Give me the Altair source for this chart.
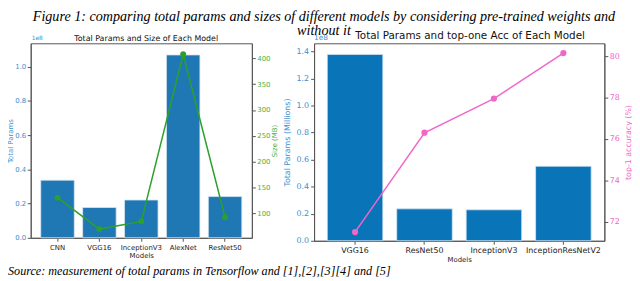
import altair as alt
import pandas as pd

# ---- data ----
left_models = ["CNN", "VGG16", "InceptionV3", "AlexNet", "ResNet50"]
left_params = [33.7e6, 17.7e6, 22.1e6, 106.9e6, 24.1e6]
left_size_mb = [130, 69, 84, 408, 92]

right_models = ["VGG16", "ResNet50", "InceptionV3", "InceptionResNetV2"]
right_params = [137.8e6, 23.6e6, 22.9e6, 55.1e6]
right_acc = [71.5, 76.3, 77.95, 80.15]

title_lines = [
    "Figure 1: comparing total params and sizes of different models by considering pre-trained weights and",
    "without it",
]
caption = "Source: measurement of total params in Tensorflow and [1],[2],[3][4]  and [5]"
left_title = "Total Params and Size of Each Model"
right_title = "Total Params and top-one Acc of Each Model"

BLUE_TXT = "#3a8fcf"
GREEN = "#2ca02c"
GREEN_TXT = "#45b045"
PINK = "#f067c8"
SANS = "DejaVu Sans"

df_l = pd.DataFrame({"model": left_models, "params": left_params,
                     "size": left_size_mb, "idx": range(len(left_models))})
df_r = pd.DataFrame({"model": right_models, "params": right_params,
                     "acc": right_acc, "idx": range(len(right_models))})

# ---------------- left panel ----------------
xl = alt.X("model:N", sort=left_models,
           scale=alt.Scale(paddingInner=0.2, paddingOuter=0.24),
           axis=alt.Axis(title="Models", labelAngle=0, labelFontSize=7, titleFontSize=7,
                         labelColor="#222", titleColor="#222", titlePadding=1,
                         titleFontWeight="normal"))
bars_l = alt.Chart(df_l).mark_bar(color="#1f77b4", stroke="#d6e6f2", strokeWidth=0.8).encode(
    x=xl,
    y=alt.Y("params:Q", scale=alt.Scale(domain=[0, 1.137e8], nice=False, zero=True),
            axis=alt.Axis(title="Total Params", values=[0, 2e7, 4e7, 6e7, 8e7, 1e8],
                          labelExpr="format(datum.value/1e8, '.1f')",
                          labelColor=BLUE_TXT, titleColor=BLUE_TXT, labelFontSize=7,
                          titleFontSize=7, titlePadding=1, labelPadding=1.5,
                          titleFontWeight="normal")),
)
line_l = alt.Chart(df_l).mark_line(
    color=GREEN, strokeWidth=1.5,
    point=alt.OverlayMarkDef(color=GREEN, size=36, filled=True, opacity=1),
).encode(
    x=alt.X("model:N", sort=left_models),
    y=alt.Y("size:Q", scale=alt.Scale(domain=[52.1, 429.3], nice=False, zero=False),
            axis=alt.Axis(orient="right", title="Size (MB)",
                          values=[100, 150, 200, 250, 300, 350, 400],
                          labelColor=GREEN_TXT, titleColor=GREEN_TXT, labelFontSize=7,
                          titleFontSize=7, titleAngle=270, titleBaseline="top",
                          titlePadding=1, labelPadding=1.5,
                          titleFontWeight="normal")),
    order=alt.Order("idx:Q"),
)
off_l = alt.Chart(pd.DataFrame({"t": ["1e8"]})).mark_text(
    align="left", baseline="bottom", fontSize=6, color=BLUE_TXT, font=SANS
).encode(x=alt.value(1), y=alt.value(-2), text="t:N")

left = alt.layer(bars_l, line_l, off_l).resolve_scale(y="independent").properties(
    width=224, height=197,
    title=alt.TitleParams(left_title, fontSize=8, font=SANS, fontWeight="normal",
                          color="#111", offset=-8, dx=5),
)

# ---------------- right panel ----------------
xr = alt.X("model:N", sort=right_models,
           scale=alt.Scale(paddingInner=0.2, paddingOuter=0.19),
           axis=alt.Axis(title="Models", labelAngle=0, labelFontSize=8, titleFontSize=7,
                         labelColor="#222", titleColor="#222", titlePadding=2,
                         titleFontWeight="normal"))
bars_r = alt.Chart(df_r).mark_bar(color="#0a74b8", stroke="#d6e6f2", strokeWidth=0.8).encode(
    x=xr,
    y=alt.Y("params:Q", scale=alt.Scale(domain=[0, 1.46e8], nice=False, zero=True),
            axis=alt.Axis(title="Total Params (Millions)",
                          values=[0, 2e7, 4e7, 6e7, 8e7, 1e8, 1.2e8, 1.4e8],
                          labelExpr="format(datum.value/1e8, '.1f')",
                          labelColor=BLUE_TXT, titleColor=BLUE_TXT, labelFontSize=8,
                          titleFontSize=8, titlePadding=5, titleFontWeight="normal")),
)
line_r = alt.Chart(df_r).mark_line(
    color=PINK, strokeWidth=1.5,
    point=alt.OverlayMarkDef(color=PINK, size=40, filled=True, opacity=1),
).encode(
    x=alt.X("model:N", sort=right_models),
    y=alt.Y("acc:Q", scale=alt.Scale(domain=[71.08, 80.62], nice=False, zero=False),
            axis=alt.Axis(orient="right", title="top-1 accuracy (%)",
                          values=[72, 74, 76, 78, 80],
                          labelColor=PINK, titleColor=PINK, labelFontSize=8,
                          titleFontSize=8, titleAngle=270, titleBaseline="top",
                          titlePadding=5, labelPadding=1.5,
                          titleFontWeight="normal")),
    order=alt.Order("idx:Q"),
)
off_r = alt.Chart(pd.DataFrame({"t": ["1e8"]})).mark_text(
    align="left", baseline="bottom", fontSize=7.5, color=BLUE_TXT, font=SANS
).encode(x=alt.value(0), y=alt.value(-1), text="t:N")

right = alt.layer(bars_r, line_r, off_r).resolve_scale(y="independent").properties(
    width=294, height=200,
    title=alt.TitleParams(right_title, fontSize=10.5, font=SANS, fontWeight="normal",
                          color="#111", offset=-7.5, dx=11),
)

row = alt.hconcat(left, right, spacing=63, bounds="flush")

inner = alt.vconcat(row, bounds="flush").properties(
    title=alt.TitleParams(caption, orient="bottom", frame="group", anchor="start",
                          align="left", dx=-23, offset=12, baseline="alphabetic",
                          font="Liberation Serif", fontStyle="italic",
                          fontWeight="normal", fontSize=12.3, color="#000"),
)

chart = alt.vconcat(inner, bounds="flush").properties(
    title=alt.TitleParams(title_lines, orient="top", frame="group", anchor="start",
                          align="center", dx=297, offset=-21, baseline="bottom",
                          font="Liberation Serif", fontStyle="italic",
                          fontWeight="normal", fontSize=14.3, lineHeight=13.5,
                          color="#000"),
    autosize=alt.AutoSizeParams(type="none"),
    padding={"left": 23, "top": 34, "right": 609, "bottom": 240},
).configure_view(stroke="#555", strokeWidth=1).configure_axis(
    grid=False, domainColor="#555", tickColor="#555", tickSize=3.5,
    labelFont=SANS, titleFont=SANS, labelPadding=2
)

chart.save("out.html", embed_options={"renderer": "svg", "actions": False})
